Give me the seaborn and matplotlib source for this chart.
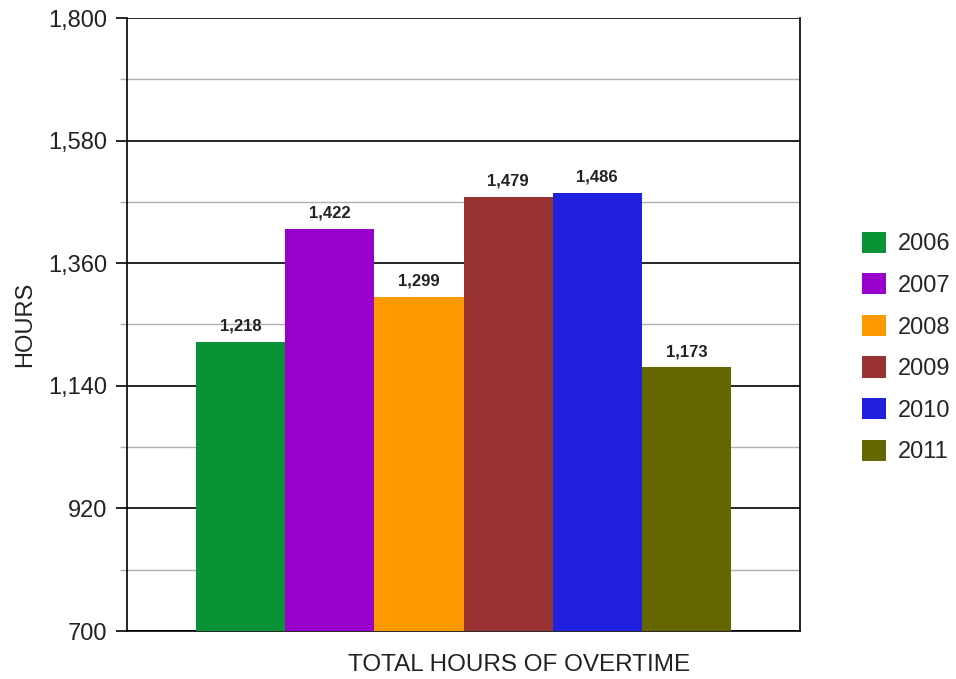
import matplotlib
matplotlib.use("Agg")
import matplotlib.pyplot as plt
import seaborn as sns
import pandas as pd
from matplotlib.ticker import FixedLocator, FuncFormatter

years = ["2006", "2007", "2008", "2009", "2010", "2011"]
hours = [1218, 1422, 1299, 1479, 1486, 1173]
colors = ["#0A9237", "#9900CC", "#FF9900", "#993333", "#2020DD", "#666600"]
yticks = [700, 920, 1140, 1360, 1580, 1800]
minor_ticks = [810, 1030, 1250, 1470, 1690]

sns.set_theme(style="white")
plt.rcParams["font.family"] = ["Liberation Sans", "DejaVu Sans"]

df = pd.DataFrame({"group": ["TOTAL HOURS OF OVERTIME"] * len(years),
                   "year": years, "hours": hours})

fig = plt.figure(figsize=(9.56, 6.79), dpi=100)
ax = fig.add_axes([127/956, 48/679, 673/956, 613/679])

sns.barplot(data=df, x="group", y="hours", hue="year", palette=colors,
            width=0.795, ax=ax, saturation=1, legend=True, zorder=3,
            linewidth=0, edgecolor="none")

ax.set_xlim(-0.5, 0.5)
ax.set_ylim(700, 1800)
ax.set_yticks(yticks)
ax.yaxis.set_minor_locator(FixedLocator(minor_ticks))
ax.yaxis.set_major_formatter(FuncFormatter(lambda v, p: f"{v:,.0f}"))
ax.grid(which="major", axis="y", color="black", linewidth=1.2, zorder=1)
ax.grid(which="minor", axis="y", color="#b0b0b0", linewidth=1.0, zorder=1)
ax.set_axisbelow(True)
ax.set_xticks([])
ax.set_xlabel("")
ax.set_ylabel("HOURS", fontsize=17, labelpad=9, color="#222222")
ax.tick_params(axis="y", which="major", left=True, length=8, width=1.2,
               labelsize=17, color="black", labelcolor="#222222", pad=6)
ax.tick_params(axis="y", which="minor", left=True, length=5, width=1.0, color="#b0b0b0")
for s in ["left", "right", "bottom"]:
    ax.spines[s].set_color("black")
    ax.spines[s].set_linewidth(1.2)
ax.spines["top"].set_visible(False)

for c in ax.containers:
    ax.bar_label(c, labels=[f"{v:,.0f}" for v in c.datavalues],
                 fontsize=12, fontweight="bold", padding=6, color="#222222")

fig.text(519/956, 1 - 665/679, "TOTAL HOURS OF OVERTIME", ha="center", va="center",
         fontsize=17.5, color="#222222")

handles, labels = ax.get_legend_handles_labels()
ax.legend_.remove()
fig.legend(handles, labels, loc="center left", bbox_to_anchor=(841/956, 1 - 347.5/679),
           frameon=False, fontsize=17, handlelength=1.0, handleheight=1.0,
           labelspacing=0.76, handletextpad=0.5)

fig.savefig("out.png", dpi=100)
